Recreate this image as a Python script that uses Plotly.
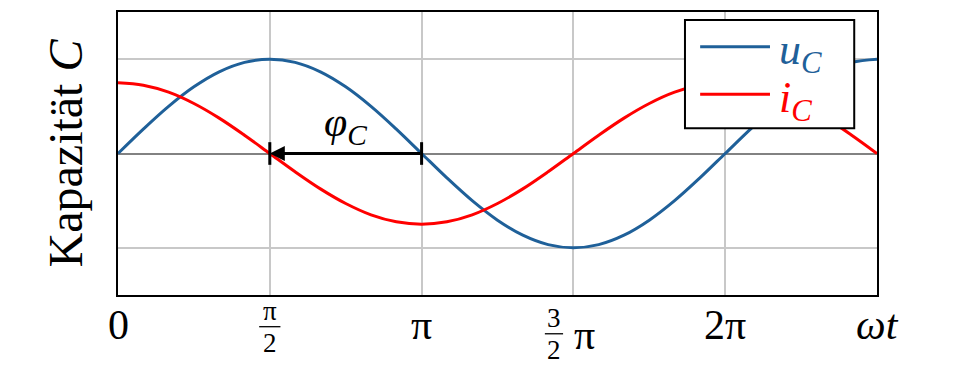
import plotly.graph_objects as go

# phase in units of pi (omega*t / pi)
phase = [0, 1/12, 2/12, 3/12, 4/12, 5/12, 6/12, 7/12, 8/12, 9/12, 10/12, 11/12,
         1, 13/12, 14/12, 15/12, 16/12, 17/12, 18/12, 19/12, 20/12, 21/12, 22/12, 23/12,
         2, 25/12, 26/12, 27/12, 28/12, 29/12, 30/12]

u_C = [0, 0.259, 0.5, 0.707, 0.866, 0.966, 1, 0.966, 0.866, 0.707, 0.5, 0.259,
       0, -0.259, -0.5, -0.707, -0.866, -0.966, -1, -0.966, -0.866, -0.707, -0.5, -0.259,
       0, 0.259, 0.5, 0.707, 0.866, 0.966, 1]

i_C = [0.75, 0.724, 0.65, 0.53, 0.375, 0.194, 0, -0.194, -0.375, -0.53, -0.65, -0.724,
       -0.75, -0.724, -0.65, -0.53, -0.375, -0.194, 0, 0.194, 0.375, 0.53, 0.65, 0.724,
       0.75, 0.724, 0.65, 0.53, 0.375, 0.194, 0]

series_names = ["<i>u</i><sub><i>C</i></sub>", "<i>i</i><sub><i>C</i></sub>"]
phi_start = 1.0
phi_end = 0.5

BLUE = "rgb(31,96,153)"
RED = "rgb(255,0,0)"
FONT = "Liberation Serif"

fig = go.Figure()
fig.add_trace(go.Scatter(x=phase, y=u_C, mode="lines", line=dict(color=BLUE, width=3, shape="spline"),
                         name=series_names[0], showlegend=False))
fig.add_trace(go.Scatter(x=phase, y=i_C, mode="lines", line=dict(color=RED, width=3, shape="spline"),
                         name=series_names[1], showlegend=False))

fig.update_layout(
    width=959, height=384,
    margin=dict(l=118, r=82, t=10, b=89),
    paper_bgcolor="white", plot_bgcolor="white",
    font=dict(family=FONT, color="black", size=40),
    showlegend=False,
)
fig.update_xaxes(range=[0, 2.5], tickvals=[0.5, 1, 1.5, 2], showticklabels=False,
                 showgrid=True, gridcolor="rgb(200,200,200)", gridwidth=1.5,
                 showline=True, linecolor="black", linewidth=2, mirror=True, zeroline=False)
fig.update_yaxes(range=[-1.5, 1.5], tickvals=[-1, 0, 1], showticklabels=False,
                 showgrid=True, gridcolor="rgb(200,200,200)", gridwidth=1.5,
                 zeroline=True, zerolinecolor="rgb(130,130,130)", zerolinewidth=1.5,
                 showline=True, linecolor="black", linewidth=2, mirror=True,
                 title=dict(text="Kapazität <i>C</i>", font=dict(size=48), standoff=18))

# tick labels
simple = {0: "0", 1: "π", 2: "2π", 2.5: "<i>ωt</i>"}
for v, t in simple.items():
    fig.add_annotation(x=v, y=-0.105, xref="x", yref="paper", text=t, showarrow=False,
                       font=dict(size=42), yanchor="middle")


def fraction(x, ybar, num, den, half_w):
    fig.add_annotation(x=x, y=ybar, xref="x", yref="paper", text=num, showarrow=False,
                       font=dict(size=27), yanchor="bottom", borderpad=0)
    fig.add_annotation(x=x, y=ybar, xref="x", yref="paper", text=den, showarrow=False,
                       font=dict(size=27), yanchor="top", borderpad=0)
    fig.add_shape(type="line", xref="x", yref="paper", x0=x - half_w, x1=x + half_w,
                  y0=ybar, y1=ybar, line=dict(color="black", width=1.3))


fraction(0.5, -0.112, "π", "2", 0.035)
fraction(1.436, -0.137, "3", "2", 0.03)
fig.add_annotation(x=1.535, y=-0.14, xref="x", yref="paper", text="π", showarrow=False,
                   font=dict(size=42), yanchor="middle")

# phase arrow
fig.add_annotation(x=phi_end, y=0, ax=phi_start, ay=0, xref="x", yref="y", axref="x", ayref="y",
                   showarrow=True, arrowhead=2, arrowsize=1, arrowwidth=3, arrowcolor="black", text="")
for xv in (phi_start, phi_end):
    fig.add_shape(type="line", xref="x", yref="y", x0=xv, x1=xv, y0=-0.12, y1=0.12,
                  line=dict(color="black", width=3))
fig.add_annotation(x=(phi_start + phi_end) / 2, y=0.3, xref="x", yref="y",
                   text="<i>φ</i><sub><i>C</i></sub>", showarrow=False, font=dict(size=42))

# legend (drawn box)
fig.add_shape(type="rect", xref="paper", yref="paper", x0=0.747, x1=0.970, y0=0.589, y1=0.972,
              line=dict(color="black", width=2), fillcolor="white", layer="above")
for name, color, yl in ((series_names[0], BLUE, 0.877), (series_names[1], RED, 0.709)):
    fig.add_shape(type="line", xref="paper", yref="paper", x0=0.767, x1=0.859, y0=yl, y1=yl,
                  line=dict(color=color, width=3), layer="above")
    fig.add_annotation(x=0.868, y=yl - 0.02, xref="paper", yref="paper", text=name, showarrow=False,
                       xanchor="left", yanchor="middle", font=dict(size=44, color=color))

fig.write_html("out.html")
